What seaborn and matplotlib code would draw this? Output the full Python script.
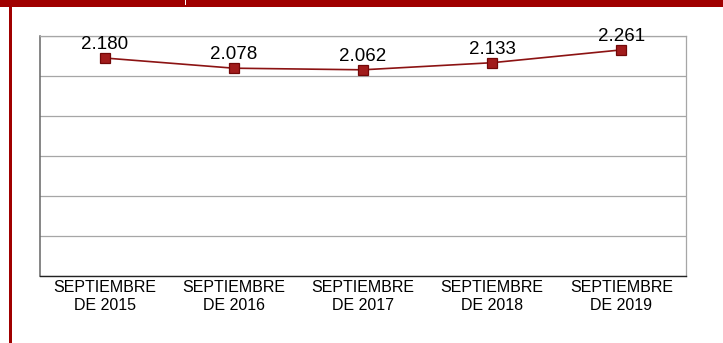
import matplotlib
matplotlib.use("Agg")
import matplotlib.pyplot as plt
import seaborn as sns
import pandas as pd

# Values by survey period
periodos = ["SEPTIEMBRE\nDE 2015", "SEPTIEMBRE\nDE 2016", "SEPTIEMBRE\nDE 2017",
            "SEPTIEMBRE\nDE 2018", "SEPTIEMBRE\nDE 2019"]
valores = [2180, 2078, 2062, 2133, 2261]
etiquetas = ["2.180", "2.078", "2.062", "2.133", "2.261"]
y_ticks = [0, 400, 800, 1200, 1600, 2000, 2400]

df = pd.DataFrame({"periodo": periodos, "valor": valores})

sns.set_theme(style="white")
plt.rcParams["font.family"] = ["Liberation Sans", "DejaVu Sans"]

DARK_RED = "#a00000"
LINE_RED = "#8c1313"

fig = plt.figure(figsize=(7.23, 3.43), dpi=100)
ax = fig.add_axes([40 / 723, 1 - 276 / 343, 646 / 723, 240 / 343])

sns.lineplot(data=df, x="periodo", y="valor", ax=ax, sort=False,
             color=LINE_RED, linewidth=1.2, marker="s", markersize=7,
             markerfacecolor="#a11c1c", markeredgecolor="#720808",
             markeredgewidth=0.9, zorder=3)

for i, (v, t) in enumerate(zip(valores, etiquetas)):
    ax.annotate(t, (i, v), xytext=(0, 6.5), textcoords="offset points",
                ha="center", va="baseline", fontsize=13.5, color="black",
                zorder=4, annotation_clip=False)

ax.set_xlim(-0.5, len(periodos) - 0.5)
ax.set_ylim(y_ticks[0], y_ticks[-1])
ax.set_yticks(y_ticks)
ax.set_yticklabels([])
ax.grid(axis="y", color="#a6a6a6", linewidth=0.9)
ax.grid(axis="x", visible=False)
ax.set_xlabel("")
ax.set_ylabel("")
ax.tick_params(axis="x", length=0, pad=3, labelsize=11.5, colors="black")
ax.tick_params(axis="y", length=0)
for lab in ax.get_xticklabels():
    lab.set_linespacing(1.25)

ax.spines["left"].set_color("#666666")
ax.spines["left"].set_linewidth(1.1)
ax.spines["bottom"].set_color("#222222")
ax.spines["bottom"].set_linewidth(1.0)
ax.spines["top"].set_color("#a6a6a6")
ax.spines["top"].set_linewidth(0.9)
ax.spines["right"].set_color("#a6a6a6")
ax.spines["right"].set_linewidth(0.9)

# Frame: red band across the top and a red rule on the left
fig.patches.append(plt.Rectangle((0, 1 - 7 / 343), 1, 7 / 343, transform=fig.transFigure,
                                 facecolor=DARK_RED, edgecolor="none", zorder=0))
fig.patches.append(plt.Rectangle((9 / 723, 0), 3 / 723, 1, transform=fig.transFigure,
                                 facecolor=DARK_RED, edgecolor="none", zorder=0))
# small white notch in the band
fig.patches.append(plt.Rectangle((185 / 723, 1 - 5 / 343), 1.5 / 723, 5 / 343,
                                 transform=fig.transFigure, facecolor="white",
                                 edgecolor="none", zorder=1))

fig.savefig("out.png", dpi=100)
